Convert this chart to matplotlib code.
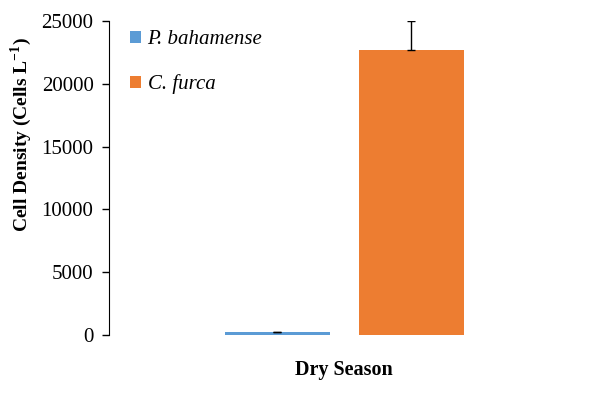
import matplotlib.pyplot as plt
from matplotlib.patches import Patch

species = ['P. bahamense', 'C. furca']
density = [200, 22700]
err_up = [60, 2300]
colors = ['#5B9BD5', '#ED7D31']
category = 'Dry Season'
yticks = [0, 5000, 10000, 15000, 20000, 25000]

plt.rcParams['font.family'] = ['Liberation Serif', 'DejaVu Serif']
plt.rcParams['mathtext.fontset'] = 'custom'
plt.rcParams['mathtext.rm'] = 'Liberation Serif'
plt.rcParams['mathtext.bf'] = 'Liberation Serif:bold'

fig = plt.figure(figsize=(6.01, 3.95), dpi=100)
ax = fig.add_axes([0.181, 0.152, 0.784, 0.795])

offsets = [-0.142, 0.142]
width = 0.223
for off, val, e, c in zip(offsets, density, err_up, colors):
    ax.bar(off, val, width=width, color=c)
    ax.errorbar(off, val, yerr=[[0], [e]], fmt='none', ecolor='black',
                elinewidth=1, capsize=3, capthick=1)

ax.set_xlim(-0.5, 0.5)
ax.set_ylim(0, 25000)
ax.set_yticks(yticks)
ax.set_yticklabels([str(t) for t in yticks], fontsize=15)
ax.set_xticks([0])
ax.set_xticklabels([category], fontsize=14.5, fontweight='bold')
ax.tick_params(axis='x', length=0, pad=18)
ax.tick_params(axis='y', length=5, width=1, direction='out', pad=6)
for s in ['top', 'right', 'bottom']:
    ax.spines[s].set_visible(False)
ax.spines['left'].set_color('black')

ax.set_ylabel('Cell Density (Cells L$^{\\mathbf{-1}}$)', fontsize=14,
              fontweight='bold')
ax.yaxis.set_label_coords(-0.158, 0.637)

handles = [Patch(facecolor=c) for c in colors]
leg = ax.legend(handles, species, loc='upper left', bbox_to_anchor=(0.005, 1.03),
                frameon=False, handlelength=0.55, handleheight=0.55,
                handletextpad=0.3, labelspacing=1.2,
                prop={'style': 'italic', 'size': 15})

fig.savefig('out.png', dpi=100)
